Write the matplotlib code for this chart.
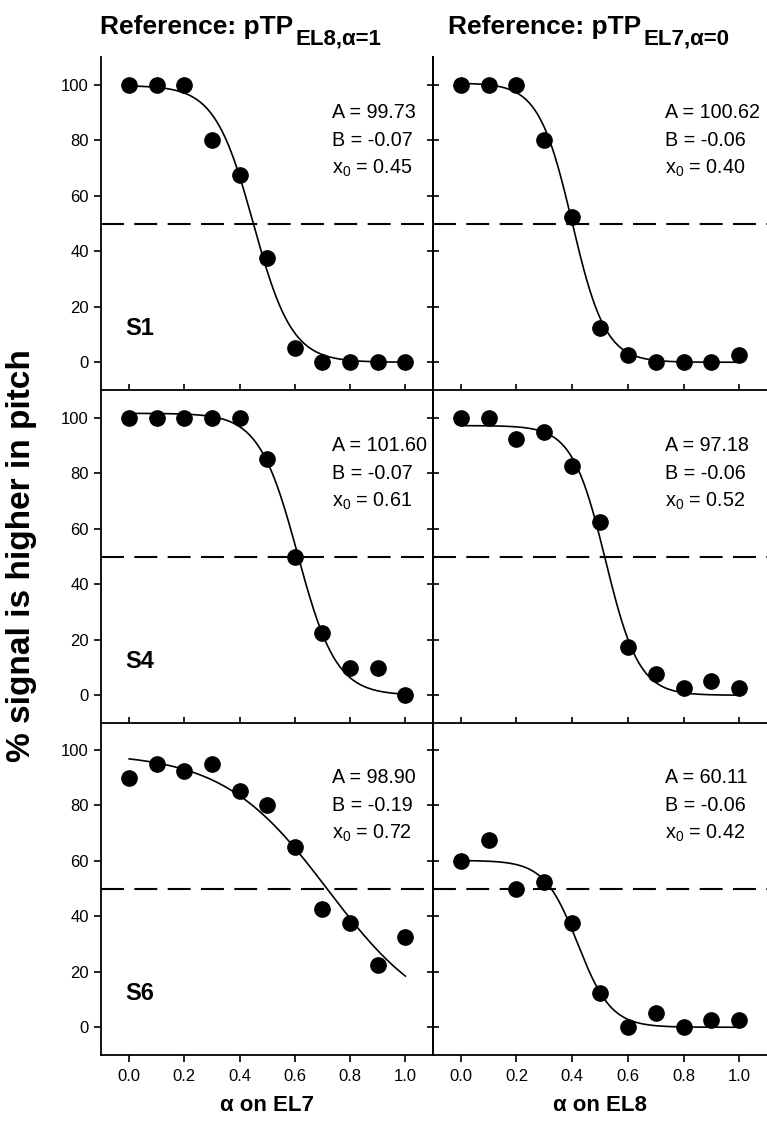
import numpy as np
import matplotlib
matplotlib.use("Agg")
import matplotlib.pyplot as plt

plt.rcParams['font.family'] = ['Liberation Sans', 'DejaVu Sans']
plt.rcParams['mathtext.fontset'] = 'custom'
plt.rcParams['mathtext.rm'] = 'Liberation Sans'
plt.rcParams['mathtext.it'] = 'Liberation Sans'
plt.rcParams['mathtext.bf'] = 'Liberation Sans:bold'

# Данные
alpha_levels = [0.0, 0.1, 0.2, 0.3, 0.4, 0.5, 0.6, 0.7, 0.8, 0.9, 1.0]
subjects = ["S1", "S4", "S6"]

s1_el7 = [100, 100, 100, 80, 67.5, 37.5, 5, 0, 0, 0, 0]
s4_el7 = [100, 100, 100, 100, 100, 85, 50, 22.5, 10, 10, 0]
s6_el7 = [90, 95, 92.5, 95, 85, 80, 65, 42.5, 37.5, 22.5, 32.5]

s1_el8 = [100, 100, 100, 80, 52.5, 12.5, 2.5, 0, 0, 0, 2.5]
s4_el8 = [100, 100, 92.5, 95, 82.5, 62.5, 17.5, 7.5, 2.5, 5, 2.5]
s6_el8 = [60, 67.5, 50, 52.5, 37.5, 12.5, 0, 5, 0, 2.5, 2.5]

# параметры сигмоиды f = A / (1 + exp(-(x - x0) / B))
fit_A_el7 = [99.73, 101.60, 98.90]
fit_B_el7 = [-0.07, -0.07, -0.19]
fit_x0_el7 = [0.45, 0.61, 0.72]

fit_A_el8 = [100.62, 97.18, 60.11]
fit_B_el8 = [-0.06, -0.06, -0.06]
fit_x0_el8 = [0.40, 0.52, 0.42]

titles = ["Reference: pTP", "Reference: pTP"]
title_subs = ["EL8,\u03b1=1", "EL7,\u03b1=0"]
xlabels = ["\u03b1 on EL7", "\u03b1 on EL8"]
ylabel = "% signal is higher in pitch"
xtick_labels = ["0.0", "0.2", "0.4", "0.6", "0.8", "1.0"]

W, H = 767, 1129
fig = plt.figure(figsize=(W / 100, H / 100), dpi=100)

left_x = [101.5 / W, 433 / W]
panel_w = [331.5 / W, 334 / W]
row_top = [1 - 57 / H, 1 - 390 / H, 1 - 722 / H]
row_h = 333 / H

data = [[s1_el7, s1_el8], [s4_el7, s4_el8], [s6_el7, s6_el8]]
params = [[(fit_A_el7[i], fit_B_el7[i], fit_x0_el7[i]),
           (fit_A_el8[i], fit_B_el8[i], fit_x0_el8[i])] for i in range(3)]

xs = np.linspace(0, 1, 200)
for r in range(3):
    for c in range(2):
        ax = fig.add_axes([left_x[c], row_top[r] - row_h, panel_w[c], row_h])
        ax.patch.set_visible(False)
        y = data[r][c]
        A, B, x0 = params[r][c]
        ax.plot(xs, A / (1 + np.exp(-(xs - x0) / B)), color='black', lw=1.2, zorder=2)
        ax.plot(alpha_levels, y, 'o', color='black', ms=11, zorder=3, clip_on=False)
        ax.axhline(50, color='black', lw=1.5, ls=(0, (11, 5)), zorder=1)

        ax.set_xlim(-0.1, 1.1)
        ax.set_ylim(-10, 110)
        ax.set_xticks([0, 0.2, 0.4, 0.6, 0.8, 1.0])
        ax.set_yticks([0, 20, 40, 60, 80, 100])
        ax.spines['top'].set_visible(False)
        for s in ax.spines.values():
            s.set_linewidth(1.3)
        if c == 1:
            ax.spines['right'].set_visible(False)

        if r == 2:
            ax.tick_params(axis='x', direction='out', length=5, width=1.2,
                           labelsize=12, pad=5)
            ax.set_xticklabels(xtick_labels)
            ax.set_xlabel(xlabels[c], fontsize=16, fontweight='bold', labelpad=8)
        else:
            ax.tick_params(axis='x', direction='in', length=4, width=1.2,
                           labelbottom=False)
        if c == 0:
            ax.tick_params(axis='y', left=True, right=True, direction='out',
                           length=5, width=1.2, labelsize=12, pad=4)
            # правые тики внутрь
            for t in ax.yaxis.get_major_ticks():
                t.tick2line.set_marker(0)
                t.tick2line.set_markersize(4)
        else:
            ax.tick_params(axis='y', direction='in', length=4, width=1.2,
                           labelleft=False)

        ax.text(0.735, 90, f"A = {A:.2f}", fontsize=14.2, va='center', ha='left')
        ax.text(0.735, 80, f"B = {B:.2f}", fontsize=14.2, va='center', ha='left')
        ax.text(0.735, 70, r"x$_0$" + f" = {x0:.2f}", fontsize=14.2, va='center', ha='left')
        if c == 0:
            ax.text(-0.015, 12, subjects[r], fontsize=17, fontweight='bold',
                    va='center', ha='left')

fig.text(22 / W, 1 - 556 / H, ylabel, rotation=90,
         fontsize=24, fontweight='bold', ha='center', va='center')

# заголовки с подстрочным индексом
fig.canvas.draw()
renderer = fig.canvas.get_renderer()
title_x = [100 / W, 448 / W]
title_y = 1 - 34 / H
for c in range(2):
    t = fig.text(title_x[c], title_y, titles[c], fontsize=19, fontweight='bold',
                 ha='left', va='baseline')
    bb = t.get_window_extent(renderer)
    fig.text(bb.x1 / W + 2 / W, title_y - 10 / H, title_subs[c], fontsize=16,
             fontweight='bold', ha='left', va='baseline')

fig.savefig("out.png", dpi=100)
